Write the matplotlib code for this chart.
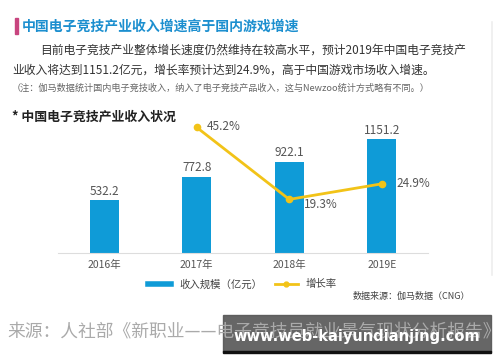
import matplotlib
matplotlib.use("Agg")
import matplotlib.pyplot as plt
from matplotlib.lines import Line2D
from matplotlib.patches import Rectangle

plt.rcParams['font.family'] = ['Noto Sans CJK SC', 'DejaVu Sans']

years = ['2016年', '2017年', '2018年', '2019E']
revenue = [532.2, 772.8, 922.1, 1151.2]
growth_years = [1, 2, 3]
growth = [45.2, 19.3, 24.9]

blue = '#0f9bd7'
gold = '#f2c318'
grey = '#555555'

fig = plt.figure(figsize=(5, 3.62), dpi=100)
fig.patch.set_facecolor('white')

# faint panel edge on the right
fig.lines.append(Line2D([0.984, 0.984], [0.24, 0.94], transform=fig.transFigure,
                        color='#eeeeee', lw=1.2))

ax = fig.add_axes([0.116, 0.301, 0.74, 0.367])
x = range(len(years))
ax.bar(x, revenue, width=0.31, color=blue, zorder=2)
for i, v in enumerate(revenue):
    ax.text(i, v + 25, f'{v:.1f}', ha='center', va='bottom', fontsize=8.5, color=grey)
ax.set_xlim(-0.5, 3.5)
ax.set_ylim(0, 1343)
ax.set_xticks(list(x))
ax.set_xticklabels(years, fontsize=7.5, color=grey)
ax.tick_params(axis='x', length=0, pad=5)
ax.set_yticks([])
for s in ['top', 'right', 'left']:
    ax.spines[s].set_visible(False)
ax.spines['bottom'].set_color('#dddddd')
ax.spines['bottom'].set_linewidth(0.8)

ax2 = ax.twinx()
ax2.plot(growth_years, growth, color=gold, lw=2, marker='o', ms=4.5, zorder=3)
offsets = [(0.11, 0.3), (0.16, -1.8), (0.16, 0.0)]
for xi, g, (dx, dy) in zip(growth_years, growth, offsets):
    ax2.text(xi + dx, g + dy, f'{g}%', ha='left', va='center', fontsize=8.5, color=grey)
ax2.set_ylim(0, 47.8)
ax2.set_yticks([])
for s in ['top', 'right', 'left', 'bottom']:
    ax2.spines[s].set_visible(False)

handles = [Line2D([0], [0], color=blue, lw=4),
           Line2D([0], [0], color=gold, lw=2, marker='o', ms=3.5)]
fig.legend(handles, ['收入规模（亿元）', '增长率'], loc='center', bbox_to_anchor=(0.485, 0.215),
           ncol=2, frameon=False, fontsize=7.5, handlelength=2.2, columnspacing=1.2,
           labelcolor='#444444')

# header texts
fig.patches.append(Rectangle((0.030, 0.905), 0.005, 0.045, transform=fig.transFigure,
                             color='#c8457f'))
fig.text(0.044, 0.927, '中国电子竞技产业收入增速高于国内游戏增速', fontsize=10, fontweight='bold',
         color='#1c8fcf', va='center')
fig.text(0.080, 0.862, '目前电子竞技产业整体增长速度仍然维持在较高水平，预计2019年中国电子竞技产',
         fontsize=8.5, color='#333333', va='center')
fig.text(0.024, 0.806, '业收入将达到1151.2亿元，增长率预计达到24.9%，高于中国游戏市场收入增速。',
         fontsize=8.5, color='#333333', va='center')
fig.text(0.024, 0.757, '（注：伽马数据统计国内电子竞技收入，纳入了电子竞技产品收入，这与Newzoo统计方式略有不同。）',
         fontsize=6.6, color='#666666', va='center')
fig.text(0.024, 0.677, '* 中国电子竞技产业收入状况', fontsize=9.3, fontweight='bold',
         color='#222222', va='center')

fig.text(0.940, 0.182, '数据来源：伽马数据（CNG）', fontsize=6.5, color='#444444',
         ha='right', va='center')

# bottom source line and watermark
fig.text(0.014, 0.083, '来源：人社部《新职业——电子竞技员就业景气现状分析报告》', fontsize=12.8,
         color='#aaaaaa', va='center')
fig.patches.append(Rectangle((0.446, 0.028), 0.536, 0.102, transform=fig.transFigure,
                             color='#555555', alpha=0.9))
fig.patches.append(Rectangle((0.446, 0.025), 0.536, 0.006, transform=fig.transFigure,
                             color='#111111'))
fig.text(0.714, 0.070, 'www.web-kaiyundianjing.com', fontsize=10.5, fontweight='bold',
         color='white', ha='center', va='center', family='DejaVu Sans')

fig.savefig('out.png', dpi=100)
